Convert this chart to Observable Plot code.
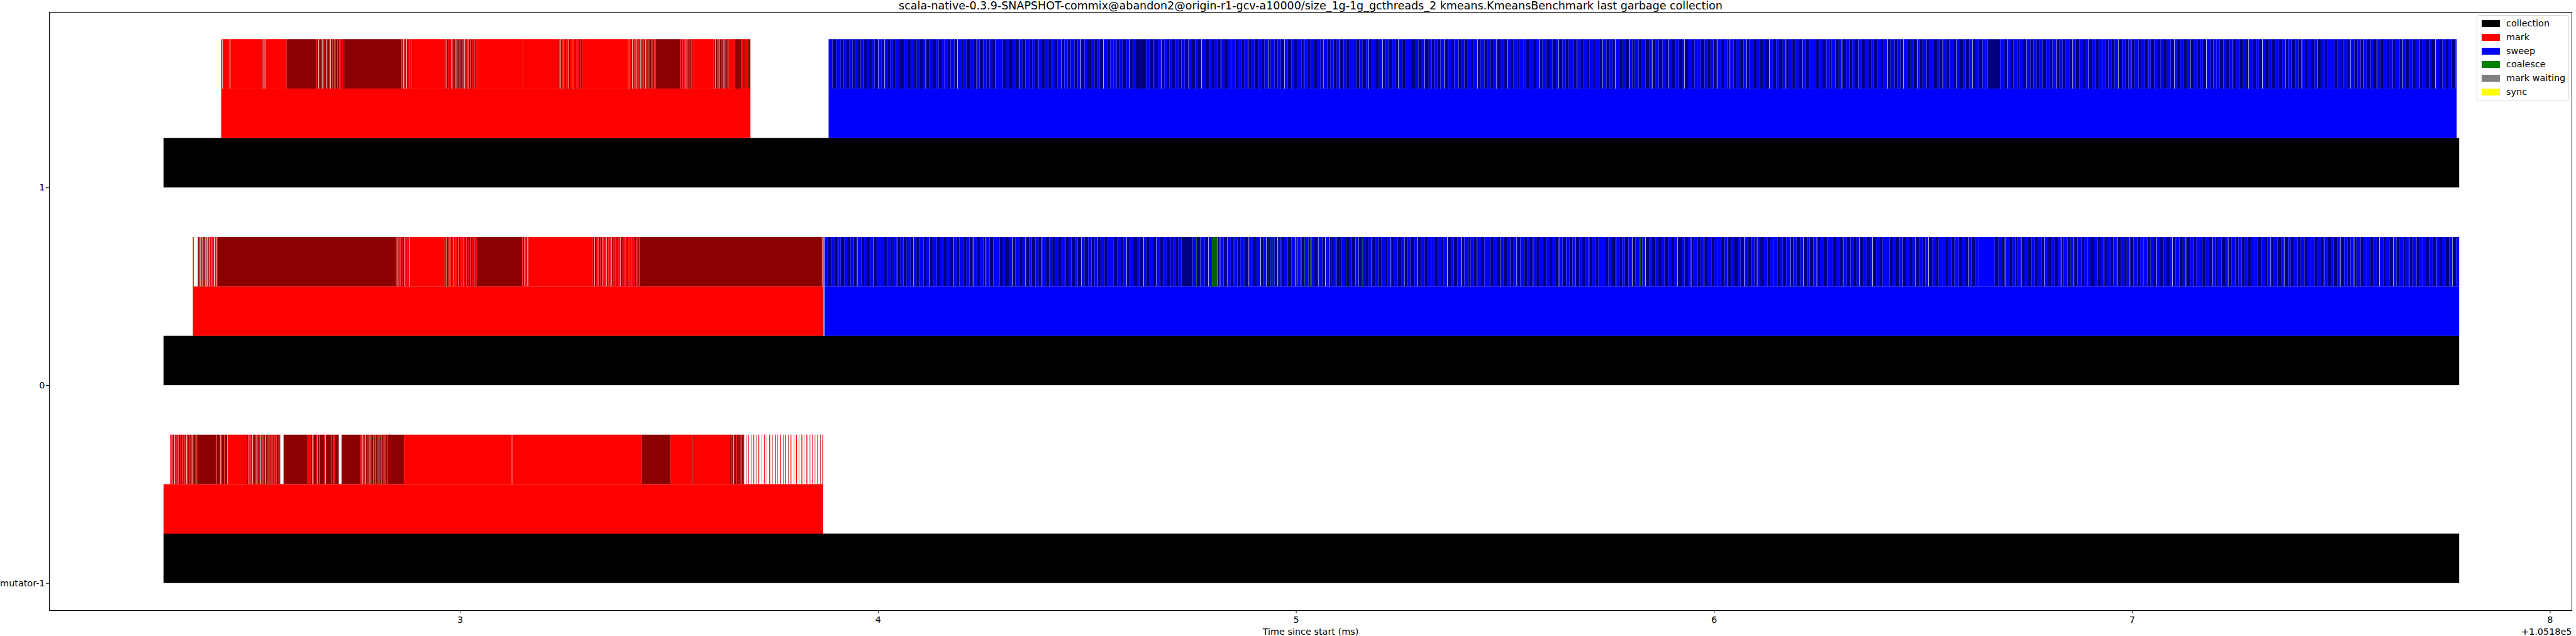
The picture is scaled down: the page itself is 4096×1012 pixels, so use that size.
<!DOCTYPE html>
<html><head><meta charset="utf-8">
<script src="https://cdn.jsdelivr.net/npm/d3@7"></script>
<script src="https://cdn.jsdelivr.net/npm/@observablehq/plot@0.6"></script>
<style>
html,body{margin:0;padding:0;background:#fff;}
#wrap{position:relative;width:4096px;height:1012px;overflow:hidden;font-family:"DejaVu Sans";}
#legend{position:absolute;left:3938px;top:24px;width:147px;height:137px;box-sizing:border-box;border:1px solid #d6d6d6;border-radius:4px;background:rgba(255,255,255,0.8);}
.lg-row{position:absolute;left:0;height:22px;}
.lg-sw{position:absolute;left:7px;width:29px;height:11px;}
.lg-tx{position:absolute;left:46px;font-size:14.4px;line-height:14.4px;white-space:nowrap;color:#000;}
</style></head><body><div id="wrap"></div>
<script>
// ---------- data (times in ms after +1.0518e5, detail runs in microseconds) ----------
const title = "scala-native-0.3.9-SNAPSHOT-commix@abandon2@origin-r1-gcv-a10000/size_1g-1g_gcthreads_2 kmeans.KmeansBenchmark last garbage collection";
const xLabel = "Time since start (ms)";
const offsetLabel = "+1.0518e5";
const xTicks = [3, 4, 5, 6, 7, 8];
const threads = ["mutator-1", "0", "1"];
const threadRow = [-1, 0, 1];
const collectionStart = [2.291, 2.291, 2.291];
const collectionEnd = [7.783, 7.783, 7.783];
const markStart = [2.291, 2.361, 2.429];
const markEnd = [3.869, 3.870, 3.695];
const sweepStart = [null, 3.872, 3.882];
const sweepEnd = [null, 7.783, 7.777];

const legendLabels = ["collection", "mark", "sweep", "coalesce", "mark waiting", "sync"];

// mark batches: [start µs, first parity, durations (negative = idle gap)]
const markRunsT1 = [
  [2429, 0, [2,-1,1,16,-1,1]],
  [2451, 0, [76]],
  [2527, 1, [1,1,-1,2,1,-1,1]],
  [2535, 0, [50]],
  [2585, 1, [71]],
  [2656, 0, [2,3,-1,2,4,2,-1,3,2,5,-1,2,3,3,-1,4,2,3,-1,2,4,2,3,-1,2,3,3,3]],
  [2724, 1, [136]],
  [2860, 0, [2,2,-1,3,2,2,-1,2,3,2,2,2]],
  [2884, 0, [80]],
  [2964, 1, [2,2,-1,3,2,2,3,-1,2,2,4,2,-1,2,3,2,2,-1,3,2,2,2,-1,3,2,2,3,-1,2,2,2,3,2,2,2,4]],
  [3041, 0, [109,1,85]],
  [3236, 1, [2,2,-1,3,2,2,-1,2,3,2,2,-1,2,2,3,2,-1,2,2,3,2,2,2,3,2,2,3]],
  [3292, 0, [108]],
  [3400, 1, [2,2,-1,2,3,2,-1,2,2,3,2,-1,2,2,2,3,-1,2,2,3,2,2,-1,2,3,2,2,3,2,2,2,2,3,4]],
  [3472, 1, [55]],
  [3527, 0, [2,2,-1,3,2,2,-1,2,3,2,2,3,2,2,4]],
  [3560, 0, [47]],
  [3607, 1, [2,2,-1,3,2,2,-1,2,2,3,2,2,-1,2,3,2,2,2]],
  [3643, 0, [15,15,5,3,8,6]]
];
const markRunsT0 = [
  [2361, 0, [2]],
  [2373, 1, [2,-1,2,1,-2,2,1,-1,3,2,-1,2,1,-2,2,3,-1,2,2,-1,3,2,-2,2,1,-1,2]],
  [2420, 1, [426]],
  [2846, 0, [2,2,-1,2,3,2,-1,2,2,3,2,-1,2,3,2,2,1]],
  [2880, 0, [83]],
  [2963, 1, [2,2,-1,3,2,2,-1,2,3,2,2,-1,2,2,3,2,-1,2,2,3,2,2,-1,2,3,2,2,2,2,3,2,2,3,2,2,3,2,2,1]],
  [3041, 1, [108]],
  [3149, 0, [2,2,-1,3,2,2,-1,2,3,1]],
  [3167, 0, [151]],
  [3318, 1, [2,2,-1,3,2,2,-1,2,3,2,2,-1,2,2,3,2,-1,2,2,3,2,2,-1,2,3,2,2,2,2,3,2,2,-1,2,3,2,2,3,2,2,3,2,2,2,2,3,2,2,3,2,2,2,2,3,2]],
  [3431, 1, [435]],
  [3866, 0, [1,-1,2]]
];
const markRunsM1 = [
  [2307, 0, [2,1,-1,2,3,1,-1,2,2,3,-1,2,3,2,2,-1,3,2,2,2,-1,3,2,2,3,2,2,-1,2,3,2,2,2,3]],
  [2374, 1, [42]],
  [2416, 0, [2,8,-1,3,6,2,5,-1,4]],
  [2447, 0, [44]],
  [2491, 1, [2,2,-1,3,2,2,-1,2,3,2,2,-1,2,2,3,2,-1,2,2,3,2,2,-1,2,3,2,2,2,2,3,2,2,3,2,2,3,2,2]],
  [2578, 1, [58]],
  [2636, 0, [8,2,-1,3,6,2,-1,4,2,10,3,-1,12,2,5,3,9]],
  [2717, 1, [45]],
  [2762, 0, [2,2,-1,3,2,2,-1,2,3,2,2,-1,2,2,3,2,-1,2,2,3,2,2,-1,2,3,2,2,2,2,3,2,2,3,2,2]],
  [2830, 1, [36]],
  [2866, 0, [258]],
  [3125, 0, [310]],
  [3435, 1, [69]],
  [3504, 0, [53,2,90]],
  [3647, 1, [2,1,3,1,-1,2,1,3,2,2,1,3,2,2,1,3,1,2]],
  [3677, 0, [2,-5,1,-4,2,-5,1,-5,2,-4,1,-5,2,-6,1,-5,2,-4,1,-5,2,-5,1,-6,2,-4,1,-5,2,-5,1,-4,2,-5,1,-5,2,-6,1,-4,2,-5,1,-5,2,-4,1,-5,2,-6,1,-5,2,-4,1,-5,2,-5,1,-4,2]]
];

// sweep batches: consecutive lines of durations in µs from sweep start (negative = idle gap)
const sweepLinesT1 = [
  [9,10,10,7,7,7,7,6,7,7,7,7,6,7,6,8,-1,7,7,-1],
  [6,7,7,7,8,11,9,8,7,7,6,8,7,-1,9,7,8,6,7,7],
  [8,7,9,7,-1,8,6,7,9,8,7,-1,6,9,8,7,7,8,-1,9],
  [7,8,6,9,8,7,-1,7,8,9,7,6,8,-1,7,9,8,7,8,7],
  [9,-1,6,8,7,9,8,7,-1,8,7,9,8,6,7,8,-1,9,7,8],
  [7,6,8,9,7,-1,8,7,25,9,9,2,8,7,-1,7,7,5,7,7],
  [8,7,8,9,-1,7,8,7,8,-1,9,8,7,6,8,7,-1,8,9,7],
  [10,7,8,6,9,-1,8,7,9,8,7,8,-1,6,9,7,8,8,-1,7,9],
  [7,9,8,6,-1,8,7,8,9,7,6,-1,9,8,7,8,7,-1,8,6,9,7],
  [8,8,7,9,6,-1,7,8,9,8,-1,7,6,9,8,7,-1,8,7,9],
  [6,9,8,7,8,-1,9,7,6,8,7,9,-1,8,7,8,9,-1,6,8,7],
  [9,7,8,-1,7,9,6,8,8,7,-1,9,8,7,-1,8,6,9,7,8],
  [7,8,9,6,8,-1,7,9,8,7,8,6,-1,9,7,8,12,7,-1,8,7],
  [8,6,9,7,8,7,-1,9,8,6,7,-1,8,9,7,8,-1,7,6,9,8],
  [9,8,7,-1,8,7,9,6,8,-1,7,8,9,7,6,-1,8,9,7,8],
  [7,9,8,7,6,8,-1,9,7,8,6,-1,8,7,9,8,7,-1,6,9,8],
  [8,7,6,9,-1,8,8,7,9,7,-1,6,8,9,7,8,-1,7,9,8],
  [9,7,8,8,-1,7,6,9,8,7,-1,9,8,7,6,8,-1,7,8,9,7],
  [6,8,9,7,8,-1,7,9,8,6,7,-1,8,9,7,8,-1,6,7,9,8],
  [8,9,7,6,-1,8,7,9,8,-1,7,8,6,9,7,-1,8,7,9,8],
  [4,30,9,7,-1,8,7,9,6,8,7,-1,9,8,7,8,6,9],
  [7,8,9,-1,6,8,7,9,8,-1,7,9,8,6,7,-1,8,9,7,8],
  [9,6,8,7,8,-1,9,7,8,6,-1,8,9,7,8,7,-1,6,9,8,7],
  [8,7,9,8,-1,6,7,9,8,7,-1,8,9,6,7,8,-1,9,7,8],
  [7,9,6,8,8,-1,7,9,8,7,6,-1,9,8,7,8,-1,6,9,7,8],
  [9,8,7,-1,6,8,9,7,8,-1,7,6,9,8,7,-1,8,9,7,8],
  [8,6,9,7,8,7,-1,9,8,7,6,-1,8,9,7,8,-1,7,8,9,6],
  [7,8,9,6,-1,8,7,9,8,7,-1,6,9,8,7,8,-1,9,7,8,6],
  [8,9,7,6,8,-1,7,9,8]
];
const sweepLinesT0 = [
  [8,9,7,8,-1,6,9,8,7,7,8,-1,9,7,6,8,9,-1,7,8],
  [9,7,8,6,9,-1,8,7,8,9,7,-1,6,8,9,7,8,-1,7,9,8],
  [7,8,9,7,-1,8,6,9,8,7,8,-1,9,7,8,6,-1,8,9,7],
  [8,7,6,9,8,-1,7,9,8,7,-1,8,6,9,7,8,-1,9,8,7,6],
  [9,8,7,-1,8,7,9,6,8,-1,7,9,8,7,6,-1,8,9,7,8],
  [7,9,8,6,8,-1,7,8,9,7,8,-1,6,9,8,7,-1,8,7,9,8],
  [4,3,5,8,7,27,9,10,-1,9,8,-1,9,-12,6,-1,8,9,-1,7,8,8,7,10,10,-1,9,9,9,-1,7,6,-1,10,9,7,-1,7,8,8,9,9,-1,3,-1,9,-1,8,9,6,-1,7,9,-1,9,7,-1,8,-1,8,10,10,10,9,7,8,-1,6,-1,7,9,8,7,-1,7],
  [8,7,9,6,8,-1,7,9,8,7,-1,6,8,9,7,-1,8,9,7,8],
  [9,8,7,6,9,-1,8,7,9,8,-1,7,9,6,8,7,-1,9,8,7],
  [7,9,8,8,-1,6,9,7,8,7,-1,8,9,7,6,8,-1,7,9,8,7],
  [8,6,9,7,-1,8,9,7,8,6,-1,9,7,8,8,-1,7,9,6,8],
  [9,7,8,9,-1,7,8,6,9,8,-1,7,9,8,7,-1,8,6,9,7,8],
  [7,8,9,6,8,-1,9,7,8,7,-1,6,9,8,7,-1,9,8,7,8],
  [8,9,7,-1,8,6,9,7,8,-1,9,7,8,6,-1,7,9,8,7,8],
  [9,7,6,8,9,-1,7,8,9,7,-1,8,6,9,8,-1,7,9,8,7],
  [7,8,9,7,-1,8,9,6,8,7,-1,9,8,7,6,-1,8,9,7,8],
  [8,7,9,8,6,-1,9,7,8,7,-1,8,9,6,7,-1,9,8,7,8],
  [9,6,8,7,-1,9,8,7,8,-1,6,9,7],
  [40,9,8,7,-1,9,8,7,6,8,-1,7,9,8],
  [8,7,9,6,-1,8,9,7,8,7,-1,6,9,8,7,-1,8,9,7,8],
  [7,9,8,7,8,-1,6,9,7,8,-1,9,8,6,7,-1,8,9,7,8],
  [9,8,6,7,-1,9,8,7,8,6,-1,7,9,8,7,-1,9,8,7,6],
  [8,7,9,8,-1,7,6,9,8,7,-1,8,9,7,6,-1,8,7,9,8],
  [7,8,9,6,8,-1,7,9,8,7,-1,9,6,8,7,-1,8,9,7,8],
  [9,7,8,7,-1,8,9,6,8,7,-1,9,8,7,8,-1,6,9,7,8],
  [8,9,7,6,-1,8,7,9,8,-1,7,8,9,6,7,-1,8,9,7,8],
  [7,8,9,7,-1,8,6,9,8,7,-1,9,8,7,6,-1,8,9,7,8]
];
// coalesce batches on thread 0: [start µs, end µs]
const coalesceT0 = [[4726,4727],[4762,4763],[4799,4811],[4850,4851],[4875,4876],[4893,4894],[4902,4903],[4918,4919],[4933,4934],[4943,4944],[4957,4958],[4965,4966],[4983,4984],[5021,5022],[5034,5035],[5076,5077],[5085,5086],[5095,5096],[5104,5105],[5121,5122],[5142,5143],[5159,5160],[5822,5825]];

// ---------- styles ----------
const kinds = ["collection","mark","mark-alt","sweep","sweep-alt","coalesce","coalesce-alt","mark waiting","sync"];
const kindColors = ["#000000","#ff0000","#8b0000","#0000ff","#000080","#008000","#006400","#808080","#ffff00"];
const legendColors = ["#000000","#ff0000","#0000ff","#008000","#808080","#ffff00"];

// ---------- build rects ----------
const rects = [];
threads.forEach((name, i) => {
  const r = threadRow[i];
  rects.push({x1: collectionStart[i], x2: collectionEnd[i], y1: r, y2: r + 0.25, kind: "collection"});
  rects.push({x1: markStart[i], x2: markEnd[i], y1: r + 0.25, y2: r + 0.5, kind: "mark"});
  if (sweepStart[i] != null) rects.push({x1: sweepStart[i], x2: sweepEnd[i], y1: r + 0.25, y2: r + 0.5, kind: "sweep"});
});
function addRuns(runs, row, base, end) {
  for (const [t0, p0, d] of runs) {
    let t = t0, p = p0;
    for (const v of d) {
      if (v > 0) {
        const x1 = t / 1000, x2 = Math.min((t + v) / 1000, end);
        if (x2 > x1) rects.push({x1, x2, y1: row + 0.5, y2: row + 0.75, kind: p % 2 ? base + "-alt" : base});
        p++; t += v;
      } else t -= v;
    }
  }
}
function addLines(lines, start, row, base, end) {
  let t = Math.round(start * 1000);
  const runs = [];
  for (const line of lines) {
    runs.push([t, 0, line]);
    for (const v of line) t += Math.abs(v);
  }
  addRuns(runs, row, base, end);
}
addRuns(markRunsM1, -1, "mark", markEnd[0]);
addRuns(markRunsT0, 0, "mark", markEnd[1]);
addRuns(markRunsT1, 1, "mark", markEnd[2]);
addLines(sweepLinesT0, sweepStart[1], 0, "sweep", sweepEnd[1]);
addLines(sweepLinesT1, sweepStart[2], 1, "sweep", sweepEnd[2]);
coalesceT0.forEach(([a, b], k) => rects.push({x1: a / 1000, x2: b / 1000, y1: 0.5, y2: 0.75, kind: k % 2 ? "coalesce" : "coalesce-alt"}));

// ---------- plot ----------
const chart = Plot.plot({
  width: 4096, height: 1012,
  marginLeft: 78, marginRight: 7, marginTop: 19, marginBottom: 41,
  style: {fontFamily: "DejaVu Sans", fontSize: "14.4px", color: "black", background: "white", overflow: "visible"},
  x: {domain: [2.017, 8.052], ticks: xTicks, tickFormat: d => String(d), tickSize: 5, tickPadding: 4, label: null},
  y: {domain: [-1.1375, 1.8875], ticks: threadRow, tickFormat: v => threads[threadRow.indexOf(v)], tickSize: 5, tickPadding: 2, label: null},
  color: {type: "ordinal", domain: kinds, range: kindColors},
  marks: [
    Plot.rect(rects, {x1: "x1", x2: "x2", y1: "y1", y2: "y2", fill: "kind", inset: 0}),
    Plot.frame({stroke: "black", strokeWidth: 1}),
    Plot.text([title], {text: d => d, frameAnchor: "top", dy: -5, lineAnchor: "bottom", fontSize: 17.5}),
    Plot.text([xLabel], {text: d => d, frameAnchor: "bottom", dy: 38, lineAnchor: "bottom", fontSize: 14.4}),
    Plot.text([offsetLabel], {text: d => d, frameAnchor: "bottom-right", dy: 38, lineAnchor: "bottom", textAnchor: "end", fontSize: 14.4})
  ]
});
const wrap = document.getElementById("wrap");
wrap.appendChild(chart);

// legend
const lg = document.createElement("div");
lg.id = "legend";
legendLabels.forEach((lab, i) => {
  const row = document.createElement("div");
  row.className = "lg-row";
  row.style.top = (7 + i * 21.8) + "px";
  const sw = document.createElement("div");
  sw.className = "lg-sw";
  sw.style.top = "0px";
  sw.style.background = legendColors[i];
  const tx = document.createElement("div");
  tx.className = "lg-tx";
  tx.style.top = "-2px";
  tx.textContent = lab;
  row.appendChild(sw); row.appendChild(tx);
  lg.appendChild(row);
});
wrap.appendChild(lg);
</script></body></html>
